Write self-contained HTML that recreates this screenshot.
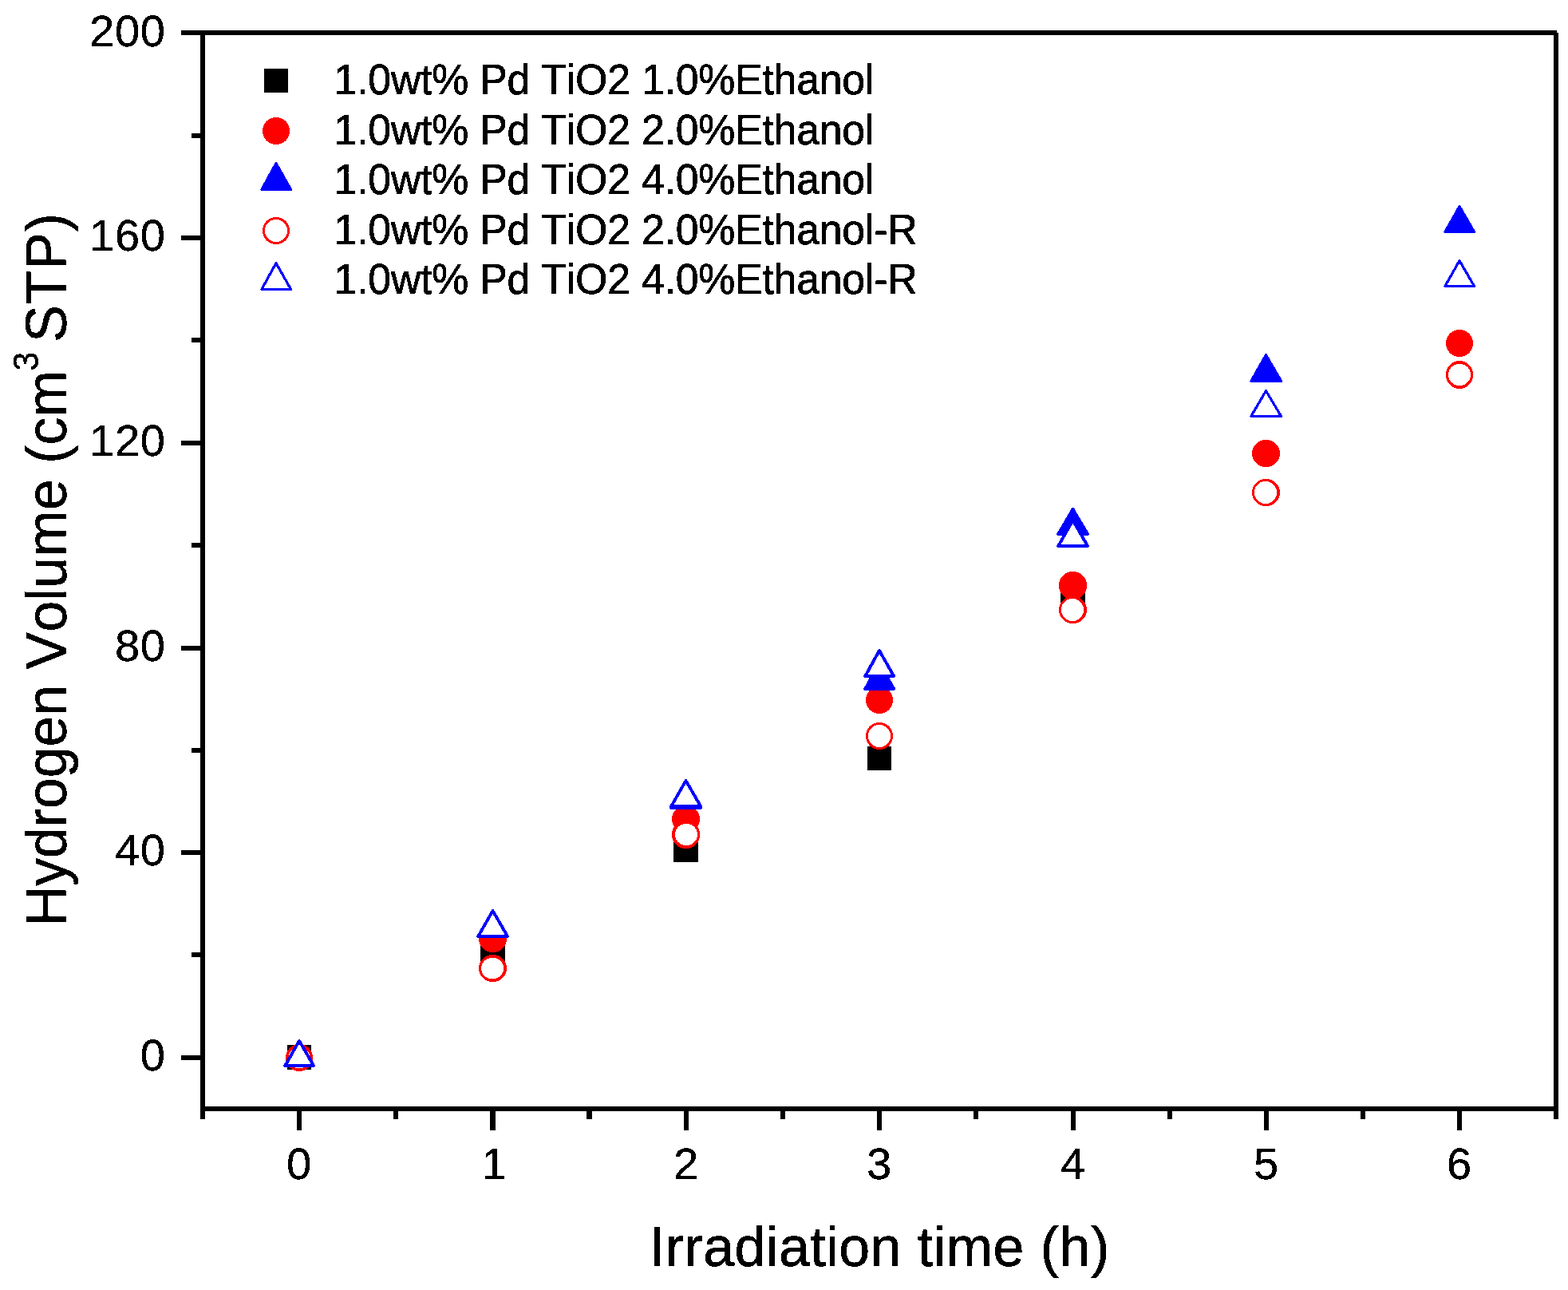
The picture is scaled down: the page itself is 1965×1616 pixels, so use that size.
<!DOCTYPE html>
<html lang="en">
<head>
<meta charset="utf-8">
<title>Hydrogen Volume vs Irradiation time</title>
<style>
html,body{margin:0;padding:0;background:#fff;}
body{width:1965px;height:1616px;overflow:hidden;}
svg{display:block;}
.t{font-family:"Liberation Sans",sans-serif;fill:#000;font-kerning:none;font-variant-ligatures:none;white-space:pre;}
</style>
</head>
<body>
<svg width="1965" height="1616" viewBox="0 0 1965 1616">
<defs>
<filter id="bin" x="0" y="0" width="1965" height="1616" filterUnits="userSpaceOnUse" color-interpolation-filters="sRGB">
<feComponentTransfer><feFuncA type="discrete" tableValues="0 1"/></feComponentTransfer>
</filter>
</defs>
<rect x="0" y="0" width="1965" height="1616" fill="#fff"/>
<g id="axes" shape-rendering="crispEdges">
<rect x="251" y="38" width="6" height="1364" fill="#000"/>
<rect x="1947" y="41" width="6" height="1361" fill="#000"/>
<rect x="227" y="38" width="1724" height="6" fill="#000"/>
<rect x="251" y="1386" width="1702" height="6" fill="#000"/>
<rect x="227" y="1322" width="24" height="6" fill="#000"/>
<rect x="240" y="1193" width="11" height="6" fill="#000"/>
<rect x="227" y="1065" width="24" height="6" fill="#000"/>
<rect x="240" y="937" width="11" height="6" fill="#000"/>
<rect x="227" y="809" width="24" height="6" fill="#000"/>
<rect x="240" y="680" width="11" height="6" fill="#000"/>
<rect x="227" y="552" width="24" height="6" fill="#000"/>
<rect x="240" y="423" width="11" height="6" fill="#000"/>
<rect x="227" y="295" width="24" height="6" fill="#000"/>
<rect x="240" y="167" width="11" height="6" fill="#000"/>
<rect x="372" y="1392" width="6" height="24" fill="#000"/>
<rect x="493" y="1392" width="6" height="10" fill="#000"/>
<rect x="614" y="1392" width="7" height="24" fill="#000"/>
<rect x="735" y="1392" width="7" height="10" fill="#000"/>
<rect x="857" y="1392" width="6" height="24" fill="#000"/>
<rect x="978" y="1392" width="6" height="10" fill="#000"/>
<rect x="1099" y="1392" width="6" height="24" fill="#000"/>
<rect x="1220" y="1392" width="6" height="10" fill="#000"/>
<rect x="1342" y="1392" width="6" height="24" fill="#000"/>
<rect x="1463" y="1392" width="6" height="10" fill="#000"/>
<rect x="1584" y="1392" width="6" height="24" fill="#000"/>
<rect x="1705" y="1392" width="6" height="10" fill="#000"/>
<rect x="1826" y="1392" width="6" height="24" fill="#000"/>
</g>
<g id="data" shape-rendering="crispEdges">
<rect x="360" y="1309" width="30" height="31" fill="#000"/>
<rect x="602" y="1179" width="31" height="31" fill="#000"/>
<rect x="844" y="1049" width="31" height="31" fill="#000"/>
<rect x="1087" y="935" width="30" height="30" fill="#000"/>
<rect x="1329" y="732" width="31" height="31" fill="#000"/>
<ellipse cx="375" cy="1325" rx="17.1" ry="17.1" fill="#f00"/>
<ellipse cx="617.5" cy="1175.5" rx="17.6" ry="17.6" fill="#f00"/>
<ellipse cx="859.5" cy="1026" rx="17.6" ry="17.1" fill="#f00"/>
<ellipse cx="1102" cy="877" rx="17.1" ry="17.1" fill="#f00"/>
<ellipse cx="1344.5" cy="733.5" rx="17.6" ry="17.6" fill="#f00"/>
<ellipse cx="1586.5" cy="568" rx="17.6" ry="17.1" fill="#f00"/>
<ellipse cx="1829" cy="430" rx="17.1" ry="17.1" fill="#f00"/>
<polygon points="375,1303.95 393.15,1335.05 357.25,1335.05" fill="#00f" stroke="#00f" stroke-width="3.9" stroke-linejoin="round"/>
<polygon points="617.5,1140.95 636.15,1173.05 599.25,1173.05" fill="#00f" stroke="#00f" stroke-width="3.9" stroke-linejoin="round"/>
<polygon points="859.5,979.95 878.15,1012.05 841.25,1012.05" fill="#00f" stroke="#00f" stroke-width="3.9" stroke-linejoin="round"/>
<polygon points="1102,830.95 1120.15,863.05 1084.25,863.05" fill="#00f" stroke="#00f" stroke-width="3.9" stroke-linejoin="round"/>
<polygon points="1344.5,637.95 1363.15,669.05 1326.25,669.05" fill="#00f" stroke="#00f" stroke-width="3.9" stroke-linejoin="round"/>
<polygon points="1586.5,444.6 1605.5,477.4 1567.9,477.4" fill="#00f" stroke="#00f" stroke-width="3.2" stroke-linejoin="round"/>
<polygon points="1829,258.6 1847.5,290.4 1810.9,290.4" fill="#00f" stroke="#00f" stroke-width="3.2" stroke-linejoin="round"/>
<ellipse cx="375" cy="1325" rx="17.1" ry="17.1" fill="#f00"/>
<ellipse cx="375" cy="1325" rx="13.4" ry="13.4" fill="#fff"/>
<ellipse cx="617.5" cy="1213" rx="17.6" ry="17.1" fill="#f00"/>
<ellipse cx="617.15" cy="1213.1" rx="14.05" ry="13.3" fill="#fff"/>
<ellipse cx="859.5" cy="1045.5" rx="17.6" ry="17.6" fill="#f00"/>
<ellipse cx="860" cy="1045.5" rx="14.1" ry="13.6" fill="#fff"/>
<ellipse cx="1102" cy="922" rx="17.1" ry="17.1" fill="#f00"/>
<ellipse cx="1102" cy="922" rx="14.1" ry="14.1" fill="#fff"/>
<ellipse cx="1344.5" cy="764" rx="17.6" ry="17.1" fill="#f00"/>
<ellipse cx="1344" cy="764" rx="14.1" ry="14.1" fill="#fff"/>
<ellipse cx="1586.5" cy="617" rx="17.6" ry="17.1" fill="#f00"/>
<ellipse cx="1586" cy="617" rx="14.1" ry="14.1" fill="#fff"/>
<ellipse cx="1829" cy="469.5" rx="17.1" ry="17.6" fill="#f00"/>
<ellipse cx="1829" cy="469.5" rx="14.1" ry="13.6" fill="#fff"/>
<polygon points="375,1303.95 393.15,1335.05 357.25,1335.05" fill="#fff" stroke="#00f" stroke-width="3.9" stroke-linejoin="round"/>
<polygon points="617.5,1140.95 636.15,1173.05 599.25,1173.05" fill="#fff" stroke="#00f" stroke-width="3.9" stroke-linejoin="round"/>
<polygon points="859.5,977.95 878.15,1010.05 841.25,1010.05" fill="#fff" stroke="#00f" stroke-width="3.9" stroke-linejoin="round"/>
<polygon points="1102,814.95 1120.15,847.05 1084.25,847.05" fill="#fff" stroke="#00f" stroke-width="3.9" stroke-linejoin="round"/>
<polygon points="1344.5,651.95 1363.15,684.05 1326.25,684.05" fill="#fff" stroke="#00f" stroke-width="3.9" stroke-linejoin="round"/>
<polygon points="1586.5,489.6 1605.5,521.4 1567.9,521.4" fill="#fff" stroke="#00f" stroke-width="3.2" stroke-linejoin="round"/>
<polygon points="1829,326.6 1847.5,358.4 1810.9,358.4" fill="#fff" stroke="#00f" stroke-width="3.2" stroke-linejoin="round"/>
</g>
<g id="legend-markers" shape-rendering="crispEdges">
<rect x="331" y="86" width="30" height="30" fill="#000"/>
<ellipse cx="346" cy="164" rx="17.1" ry="17.1" fill="#f00"/>
<polygon points="346,204.6 364.5,237.4 327.9,237.4" fill="#00f" stroke="#00f" stroke-width="3.2" stroke-linejoin="round"/>
<ellipse cx="346" cy="289" rx="17.1" ry="17.1" fill="#f00"/>
<ellipse cx="346" cy="289" rx="14.1" ry="14.1" fill="#fff"/>
<polygon points="346,329.6 364.5,362.4 327.9,362.4" fill="#fff" stroke="#00f" stroke-width="3.2" stroke-linejoin="round"/>
</g>
<g id="labels" filter="url(#bin)">
<text class="t" transform="translate(207.6,57.9)" font-size="56.2" letter-spacing="0.6" text-anchor="end" stroke="#000" stroke-width="0.3">200</text>
<text class="t" transform="translate(207.6,313.9)" font-size="56.2" letter-spacing="0.6" text-anchor="end" stroke="#000" stroke-width="0.3">160</text>
<text class="t" transform="translate(207.6,570.9)" font-size="56.2" letter-spacing="0.6" text-anchor="end" stroke="#000" stroke-width="0.3">120</text>
<text class="t" transform="translate(207.6,827.9)" font-size="56.2" letter-spacing="0.6" text-anchor="end" stroke="#000" stroke-width="0.3">80</text>
<text class="t" transform="translate(207.6,1083.9)" font-size="56.2" letter-spacing="0.6" text-anchor="end" stroke="#000" stroke-width="0.3">40</text>
<text class="t" transform="translate(207.6,1340.9)" font-size="56.2" letter-spacing="0.6" text-anchor="end" stroke="#000" stroke-width="0.3">0</text>
<text class="t" transform="translate(375,1476.9)" font-size="56.2" letter-spacing="0.6" text-anchor="middle" stroke="#000" stroke-width="0.3">0</text>
<text class="t" transform="translate(619.5,1476.9)" font-size="56.2" letter-spacing="0.6" text-anchor="middle" stroke="#000" stroke-width="0.3">1</text>
<text class="t" transform="translate(860,1476.9)" font-size="56.2" letter-spacing="0.6" text-anchor="middle" stroke="#000" stroke-width="0.3">2</text>
<text class="t" transform="translate(1102,1476.9)" font-size="56.2" letter-spacing="0.6" text-anchor="middle" stroke="#000" stroke-width="0.3">3</text>
<text class="t" transform="translate(1345,1476.9)" font-size="56.2" letter-spacing="0.6" text-anchor="middle" stroke="#000" stroke-width="0.3">4</text>
<text class="t" transform="translate(1587,1476.9)" font-size="56.2" letter-spacing="0.6" text-anchor="middle" stroke="#000" stroke-width="0.3">5</text>
<text class="t" transform="translate(1829,1476.9)" font-size="56.2" letter-spacing="0.6" text-anchor="middle" stroke="#000" stroke-width="0.3">6</text>
<text class="t" transform="translate(418.6,117.7) scale(1,1.02)" font-size="51.8" letter-spacing="-0.22" text-anchor="start" stroke="#000" stroke-width="0.7">1.0wt% Pd TiO2 1.0%Ethanol</text>
<text class="t" transform="translate(418.6,180.7) scale(1,1.02)" font-size="51.8" letter-spacing="-0.22" text-anchor="start" stroke="#000" stroke-width="0.7">1.0wt% Pd TiO2 2.0%Ethanol</text>
<text class="t" transform="translate(418.6,242.7) scale(1,1.02)" font-size="51.8" letter-spacing="-0.22" text-anchor="start" stroke="#000" stroke-width="0.7">1.0wt% Pd TiO2 4.0%Ethanol</text>
<text class="t" transform="translate(418.6,305.7) scale(1,1.02)" font-size="51.8" letter-spacing="-0.22" text-anchor="start" stroke="#000" stroke-width="0.7">1.0wt% Pd TiO2 2.0%Ethanol-R</text>
<text class="t" transform="translate(418.6,367.7) scale(1,1.02)" font-size="51.8" letter-spacing="-0.22" text-anchor="start" stroke="#000" stroke-width="0.7">1.0wt% Pd TiO2 4.0%Ethanol-R</text>
<text class="t" transform="translate(813.8,1585.7) scale(1,1.015)" font-size="70" letter-spacing="0.45" text-anchor="start" stroke="#000" stroke-width="0.6">Irradiation time (h)</text>
<text class="t" transform="translate(82.7,1160.4) rotate(-90) scale(1,1.03)" font-size="70" stroke="#000" stroke-width="0.6"><tspan x="0" letter-spacing="-0.16">Hydrogen</tspan> <tspan x="321.8" letter-spacing="0.2">Volume</tspan> <tspan x="579.4" letter-spacing="0.1">(cm</tspan><tspan x="695.8" dy="-33.88" font-size="43" stroke-width="0.4">3</tspan> <tspan x="731.4" dy="33.88" letter-spacing="0.8">STP)</tspan></text>
</g>
</svg>
</body>
</html>
